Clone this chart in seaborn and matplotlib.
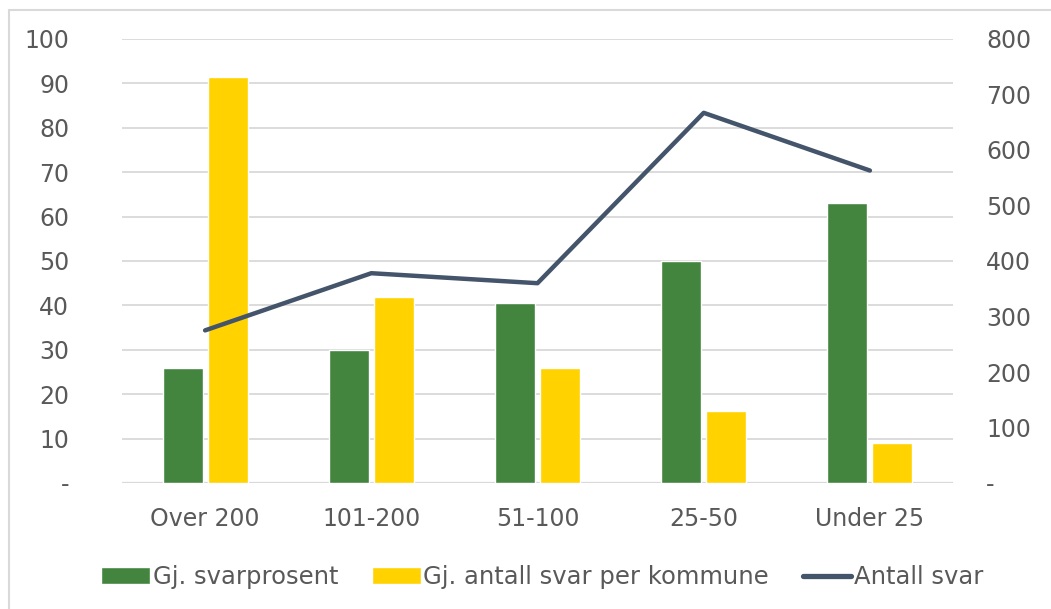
import pandas as pd
import numpy as np
import matplotlib
matplotlib.use("Agg")
import matplotlib.pyplot as plt
import seaborn as sns
from matplotlib.patches import Patch
from matplotlib.lines import Line2D
from matplotlib.ticker import FuncFormatter, MultipleLocator

categories = ["Over 200", "101-200", "51-100", "25-50", "Under 25"]
svarprosent = [26, 30, 40.6, 50, 63]
snitt_svar = [91.5, 42, 25.8, 16.3, 8.9]
antall_svar = [275, 378, 360, 667, 563]

series_names = ["Gj. svarprosent", "Gj. antall svar per kommune"]
line_name = "Antall svar"

green = "#43843F"
yellow = "#FFD200"
navy = "#44546A"
grid_grey = "#D9D9D9"
text_grey = "#595959"

df = pd.DataFrame({
    "kategori": categories * 2,
    "serie": [series_names[0]] * len(categories) + [series_names[1]] * len(categories),
    "verdi": svarprosent + snitt_svar,
})
line_df = pd.DataFrame({"kategori": categories, "antall": antall_svar})

sns.set_theme(style="white")
plt.rcParams["font.family"] = ["DejaVu Sans"]
plt.rcParams["font.size"] = 17

fig = plt.figure(figsize=(10.51, 6.09), dpi=100)
ax = fig.add_axes([122 / 1051, 1 - 483 / 609, (953 - 122) / 1051, (483 - 39) / 609])

sns.barplot(data=df, x="kategori", y="verdi", hue="serie",
            palette=[green, yellow], width=0.54, gap=0.11,
            ax=ax, legend=False, saturation=1)

ax2 = ax.twinx()
sns.lineplot(data=line_df, x="kategori", y="antall", ax=ax2, color=navy,
             lw=3.2, solid_capstyle="round", sort=False)

ax.set_xlim(-0.5, 4.5)
ax.set_ylim(0, 100)
ax2.set_ylim(0, 800)
ax.yaxis.set_major_locator(MultipleLocator(10))
ax2.yaxis.set_major_locator(MultipleLocator(100))

dash = FuncFormatter(lambda v, p: "-" if v == 0 else f"{v:.0f}")
ax.yaxis.set_major_formatter(dash)
ax2.yaxis.set_major_formatter(dash)

ax.grid(axis="y", color=grid_grey, lw=1.3)
ax.set_axisbelow(True)
for a in (ax, ax2):
    for s in a.spines.values():
        s.set_visible(False)
    a.set_xlabel("")
    a.set_ylabel("")
ax.axhline(0, color=grid_grey, lw=1.6, zorder=0.5)

ax.tick_params(axis="y", length=0, pad=38, labelcolor=text_grey, labelsize=17)
ax2.tick_params(axis="y", length=0, pad=24, labelcolor=text_grey, labelsize=17)
ax.tick_params(axis="x", length=0, pad=17, labelcolor=text_grey, labelsize=17)

handles = [
    Patch(facecolor=green, label=series_names[0]),
    Patch(facecolor=yellow, label=series_names[1]),
    Line2D([0], [0], color=navy, lw=3.8, solid_capstyle="round", label=line_name),
]
fig.legend(handles=handles, loc="center", bbox_to_anchor=(0.516, 1 - 577 / 609),
           ncol=3, frameon=False, fontsize=17.5, labelcolor=text_grey,
           handlelength=2.0, handleheight=0.65, handletextpad=0.1, columnspacing=1.4)

# chart border like the original export
fig.add_artist(Line2D([9 / 1051, 1], [1 - 10 / 609, 1 - 10 / 609], color=grid_grey, lw=1.5))
fig.add_artist(Line2D([9 / 1051, 9 / 1051], [0, 1 - 10 / 609], color=grid_grey, lw=1.5))

fig.savefig("out.png", dpi=100)
